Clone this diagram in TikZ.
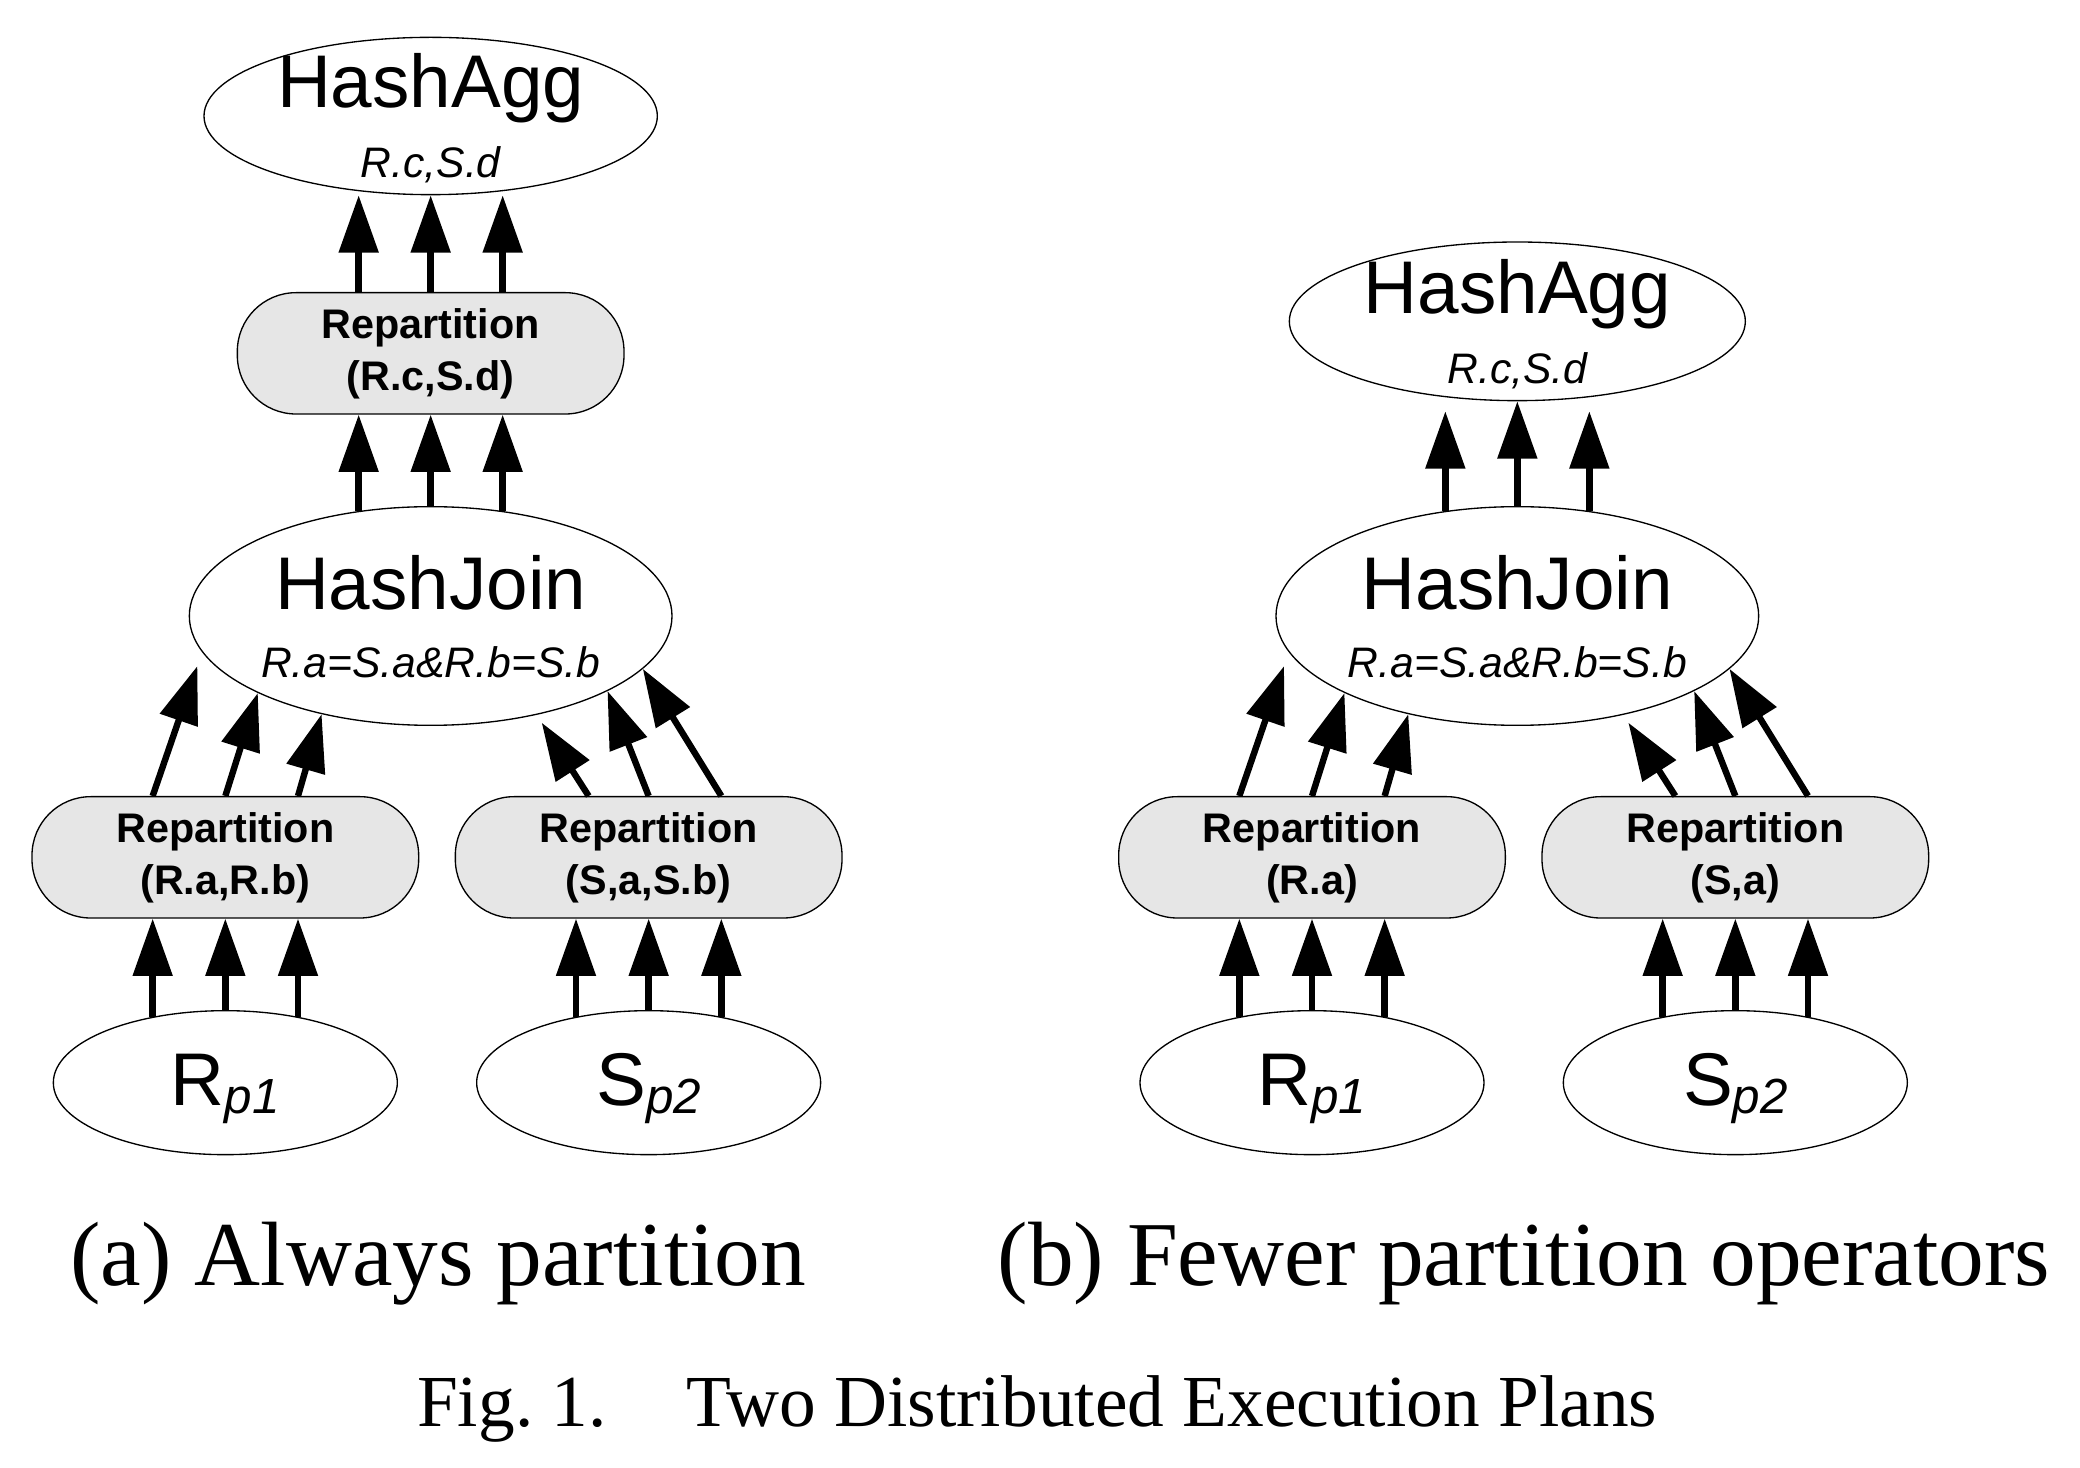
\documentclass[tikz,border=0pt]{standalone}
\usepackage{fontspec}
\setmainfont{Liberation Serif}
\setsansfont{Liberation Sans}
\usetikzlibrary{arrows.meta,calc,shapes.geometric}
\definecolor{repgray}{HTML}{E6E6E6}
\newcommand\subs[1]{\raisebox{-3pt}{\fontsize{18.5}{20}\selectfont\itshape #1}}
\newcommand\lowerplan[4]{%
  \node[ell,minimum width=181pt,minimum height=82pt] (#1hj) at (#2,462) {};
  \node[big] (#1hjt) at ($(#1hj.center)+(0,-4.5)$) {HashJoin};
  \node[sub] (#1hjs) at ($(#1hj.center)+(0,46.5)$) {R.a=S.a\&R.b=S.b};
  \node[rep] (#1rl) at (#2-154,643) {Repartition\\#3};
  \node[rep] (#1rr) at (#2+163.5,643) {Repartition\\#4};
  \node[ell,minimum width=129pt,minimum height=54pt] (#1rp) at (#2-154,812) {};
  \node[ell,minimum width=129pt,minimum height=54pt] (#1sp) at (#2+163.5,812) {};
  \node[big] (#1rpt) at ($(#1rp.center)+(0,17)$) {R\subs{p1}};
  \node[big] (#1spt) at ($(#1sp.center)+(0,17)$) {S\subs{p2}};
  \draw[arr] ($(#1rp.north)+(-54.5,5)$) -- ($(#1rl.south)+(-54.5,0)$);
  \draw[arr] (#1rp.north) -- (#1rl.south);
  \draw[arr] ($(#1rp.north)+(54.5,5)$) -- ($(#1rl.south)+(54.5,0)$);
  \draw[arr] ($(#1sp.north)+(-54.5,5)$) -- ($(#1rr.south)+(-54.5,0)$);
  \draw[arr] (#1sp.north) -- (#1rr.south);
  \draw[arr] ($(#1sp.north)+(54.5,5)$) -- ($(#1rr.south)+(54.5,0)$);
  \draw[arr,shorten >=5.5pt] ($(#1rl.north)+(-54.5,0)$) -- (#1hj.189.7);
  \draw[arr] (#1rl.north) -- (#1hj.204.7);
  \draw[arr] ($(#1rl.north)+(54.5,0)$) -- (#1hj.222.1);
  \draw[arr,shorten >=3.5pt] ($(#1rr.north)+(-45,0)$) -- (#1hj.317.75);
  \draw[arr] (#1rr.north) -- (#1hj.337.3);
  \draw[arr] ($(#1rr.north)+(54.5,0)$) -- (#1hj.346.4);
}
\begin{document}
\begin{tikzpicture}[x=0.5pt,y=-0.5pt,
  ell/.style={draw,ellipse,line width=0.5pt,inner sep=0pt,fill=white},
  rep/.style={draw,line width=0.5pt,fill=repgray,rounded corners=22pt,
    minimum width=145pt,minimum height=45.5pt,inner sep=0pt,align=center,
    font=\sffamily\bfseries\fontsize{15.5}{19.5}\selectfont},
  arr/.style={-{Triangle[length=21.5pt,width=14.5pt]},line width=2.4pt},
  big/.style={font=\sffamily\fontsize{28}{30}\selectfont,inner sep=0pt,anchor=base},
  sub/.style={font=\sffamily\itshape\fontsize{16}{18}\selectfont,inner sep=0pt,anchor=base},
  subcaption/.style={font=\fontsize{34.25}{40}\selectfont,inner sep=0pt,anchor=base west},
]
\useasboundingbox (0,0) rectangle (1560,1101);

% ---------- panel (a) ----------
\node[ell,minimum width=170pt,minimum height=59pt] (aha) at (323,87) {};
\node[big] (ahat) at ($(aha.center)+(0,-6)$) {HashAgg};
\node[sub] (ahas) at ($(aha.center)+(0,46)$) {R.c,S.d};
\node[rep] (art) at (323,265) {Repartition\\(R.c,S.d)};
\lowerplan{a}{323}{(R.a,R.b)}{(S,a,S.b)}
\draw[arr] ($(art.north)+(-54,0)$) -- ($(aha.south)+(-54,0)$);
\draw[arr] (art.north) -- (aha.south);
\draw[arr] ($(art.north)+(54,0)$) -- ($(aha.south)+(54,0)$);
\draw[arr] ($(ahj.north)+(-54,3.7)$) -- ($(art.south)+(-54,0)$);
\draw[arr] (ahj.north) -- (art.south);
\draw[arr] ($(ahj.north)+(54,3.7)$) -- ($(art.south)+(54,0)$);

% ---------- panel (b) ----------
\node[ell,minimum width=171pt,minimum height=59.5pt] (bha) at (1138,241) {};
\node[big] (bhat) at ($(bha.center)+(0,-6)$) {HashAgg};
\node[sub] (bhas) at ($(bha.center)+(0,47)$) {R.c,S.d};
\lowerplan{b}{1138}{(R.a)}{(S,a)}
\draw[arr] ($(bhj.north)+(-54,3.7)$) -- ($(bha.south)+(-54,7.5)$);
\draw[arr] (bhj.north) -- (bha.south);
\draw[arr] ($(bhj.north)+(54,3.7)$) -- ($(bha.south)+(54,7.5)$);

% ---------- captions ----------
\node[subcaption] (capa) at (52.5,964) {(a) Always partition};
\node[subcaption] (capb) at (748,964) {(b) Fewer partition operators};
\node[font=\fontsize{27.5}{30}\selectfont,inner sep=0pt,anchor=base west] (fig)
  at (312.5,1069.5) {Fig.~1.\hspace{30pt}Two Distributed Execution Plans};
\end{tikzpicture}
\end{document}
